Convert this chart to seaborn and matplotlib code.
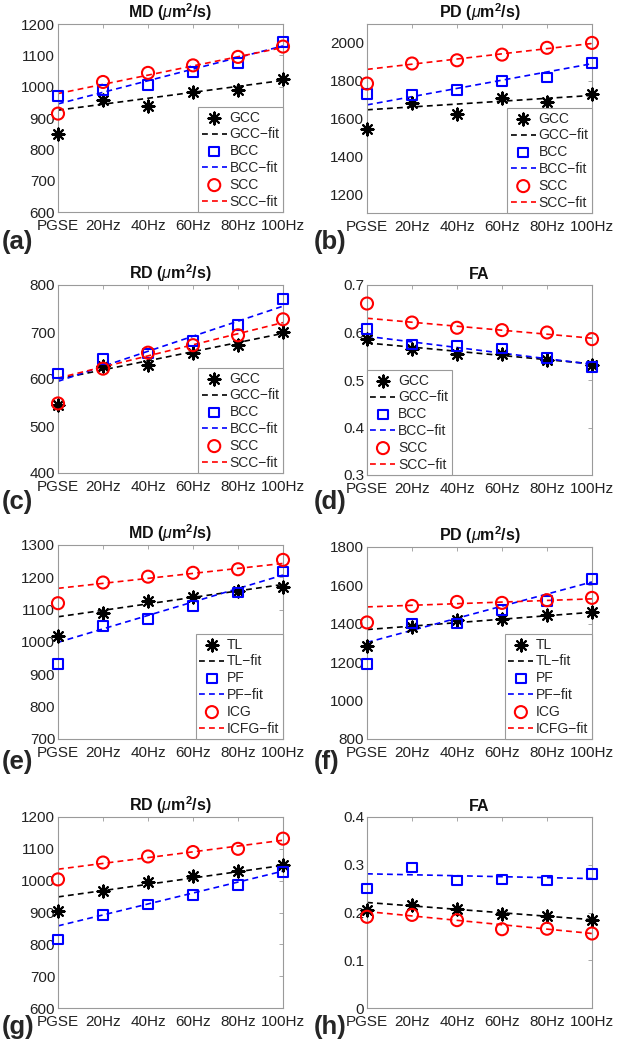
import numpy as np
import pandas as pd
import matplotlib
matplotlib.use('Agg')
import matplotlib.pyplot as plt
import seaborn as sns
from matplotlib.ticker import FuncFormatter

freqs = ['PGSE', '20Hz', '40Hz', '60Hz', '80Hz', '100Hz']
cc_names = ['GCC', 'BCC', 'SCC']
cc_fit_names = ['GCC\u2212fit', 'BCC\u2212fit', 'SCC\u2212fit']
tr_names = ['TL', 'PF', 'ICG']
tr_fit_names = ['TL\u2212fit', 'PF\u2212fit', 'ICFG\u2212fit']

# corpus callosum, panels (a)-(d)
md_gcc = [849, 958, 939, 982, 990, 1026]
md_bcc = [971, 990, 1006, 1046, 1076, 1143]
md_scc = [914, 1015, 1044, 1068, 1095, 1128]
md_gcc_fit = [925, 1020]
md_bcc_fit = [945, 1130]
md_scc_fit = [978, 1125]

pd_gcc = [1542, 1683, 1623, 1706, 1688, 1729]
pd_bcc = [1729, 1723, 1750, 1800, 1817, 1894]
pd_scc = [1785, 1891, 1908, 1938, 1974, 2000]
pd_gcc_fit = [1646, 1722]
pd_bcc_fit = [1672, 1890]
pd_scc_fit = [1860, 1997]

rd_gcc = [545, 628, 629, 656, 672, 700]
rd_bcc = [612, 642, 654, 681, 715, 770]
rd_scc = [548, 622, 656, 672, 693, 727]
rd_gcc_fit = [600, 697]
rd_bcc_fit = [595, 755]
rd_scc_fit = [602, 720]

fa_gcc = [0.586, 0.565, 0.555, 0.554, 0.542, 0.532]
fa_bcc = [0.607, 0.575, 0.572, 0.566, 0.546, 0.528]
fa_scc = [0.661, 0.621, 0.610, 0.605, 0.600, 0.586]
fa_gcc_fit = [0.578, 0.534]
fa_bcc_fit = [0.592, 0.533]
fa_scc_fit = [0.630, 0.588]

# tracts, panels (e)-(h)
md_tl = [1019, 1091, 1127, 1140, 1158, 1171]
md_pf = [931, 1050, 1071, 1111, 1153, 1218]
md_icg = [1120, 1184, 1202, 1214, 1225, 1254]
md_tl_fit = [1078, 1178]
md_pf_fit = [999, 1207]
md_icg_fit = [1166, 1243]

pd_tl = [1284, 1381, 1419, 1424, 1445, 1462]
pd_pf = [1190, 1401, 1401, 1471, 1520, 1632]
pd_icg = [1407, 1493, 1514, 1509, 1523, 1535]
pd_tl_fit = [1370, 1460]
pd_pf_fit = [1303, 1618]
pd_icg_fit = [1488, 1530]

rd_tl = [904, 966, 996, 1016, 1031, 1048]
rd_pf = [815, 893, 925, 954, 987, 1027]
rd_icg = [1004, 1057, 1076, 1090, 1100, 1132]
rd_tl_fit = [949, 1048]
rd_pf_fit = [858, 1030]
rd_icg_fit = [1036, 1127]

fa_tl = [0.205, 0.215, 0.207, 0.196, 0.192, 0.185]
fa_pf = [0.250, 0.294, 0.267, 0.269, 0.267, 0.281]
fa_icg = [0.191, 0.195, 0.184, 0.165, 0.166, 0.156]
fa_tl_fit = [0.221, 0.185]
fa_pf_fit = [0.281, 0.271]
fa_icg_fit = [0.202, 0.156]

t_md = r'MD ($\mu$m$^{\mathbf{2}}$/s)'
t_pd = r'PD ($\mu$m$^{\mathbf{2}}$/s)'
t_rd = r'RD ($\mu$m$^{\mathbf{2}}$/s)'

panels = [
    dict(tag='(a)', title=t_md, series=[md_gcc, md_bcc, md_scc], fits=[md_gcc_fit, md_bcc_fit, md_scc_fit],
         names=cc_names, fit_names=cc_fit_names, ylim=(600, 1200), yticks=[600, 700, 800, 900, 1000, 1100, 1200], leg='lower right'),
    dict(tag='(b)', title=t_pd, series=[pd_gcc, pd_bcc, pd_scc], fits=[pd_gcc_fit, pd_bcc_fit, pd_scc_fit],
         names=cc_names, fit_names=cc_fit_names, ylim=(1100, 2100), yticks=[1200, 1400, 1600, 1800, 2000], leg='lower right'),
    dict(tag='(c)', title=t_rd, series=[rd_gcc, rd_bcc, rd_scc], fits=[rd_gcc_fit, rd_bcc_fit, rd_scc_fit],
         names=cc_names, fit_names=cc_fit_names, ylim=(400, 800), yticks=[400, 500, 600, 700, 800], leg='lower right'),
    dict(tag='(d)', title='FA', series=[fa_gcc, fa_bcc, fa_scc], fits=[fa_gcc_fit, fa_bcc_fit, fa_scc_fit],
         names=cc_names, fit_names=cc_fit_names, ylim=(0.3, 0.7), yticks=[0.3, 0.4, 0.5, 0.6, 0.7], leg='lower left'),
    dict(tag='(e)', title=t_md, series=[md_tl, md_pf, md_icg], fits=[md_tl_fit, md_pf_fit, md_icg_fit],
         names=tr_names, fit_names=tr_fit_names, ylim=(700, 1300), yticks=[700, 800, 900, 1000, 1100, 1200, 1300], leg='lower right'),
    dict(tag='(f)', title=t_pd, series=[pd_tl, pd_pf, pd_icg], fits=[pd_tl_fit, pd_pf_fit, pd_icg_fit],
         names=tr_names, fit_names=tr_fit_names, ylim=(800, 1800), yticks=[800, 1000, 1200, 1400, 1600, 1800], leg='lower right'),
    dict(tag='(g)', title=t_rd, series=[rd_tl, rd_pf, rd_icg], fits=[rd_tl_fit, rd_pf_fit, rd_icg_fit],
         names=tr_names, fit_names=tr_fit_names, ylim=(600, 1200), yticks=[600, 700, 800, 900, 1000, 1100, 1200], leg=None),
    dict(tag='(h)', title='FA', series=[fa_tl, fa_pf, fa_icg], fits=[fa_tl_fit, fa_pf_fit, fa_icg_fit],
         names=tr_names, fit_names=tr_fit_names, ylim=(0, 0.4), yticks=[0, 0.1, 0.2, 0.3, 0.4], leg=None),
]

sns.set_style('white')
plt.rcParams['font.family'] = ['Liberation Sans', 'DejaVu Sans']
plt.rcParams['mathtext.fontset'] = 'custom'
plt.rcParams['mathtext.rm'] = 'Liberation Sans'
plt.rcParams['mathtext.it'] = 'Liberation Sans:italic'
plt.rcParams['mathtext.bf'] = 'Liberation Sans:bold'

W, H = 624, 1050
# axes boxes in pixels: left, top, right, bottom
px_boxes = [(58, 24, 283, 212), (367, 24, 592, 213),
            (58, 285, 283, 473), (367, 285, 592, 475),
            (58, 545, 283, 739), (367, 547, 592, 739),
            (58, 817, 283, 1008), (367, 817, 592, 1008)]
tag_pos = [(2, 242), (314, 242), (2, 502), (314, 502), (2, 762), (314, 762), (2, 1027), (314, 1027)]

colors = ['black', 'blue', 'red']
frame = '#9a9a9a'
xpos = np.arange(len(freqs))

fig = plt.figure(figsize=(W / 100, H / 100), dpi=100)

for p, (l, t, r, b), (tx, ty) in zip(panels, px_boxes, tag_pos):
    ax = fig.add_axes([l / W, 1 - b / H, (r - l) / W, (b - t) / H])
    for i in range(3):
        c = colors[i]
        if i == 0:
            sns.scatterplot(x=xpos, y=p['series'][i], marker=(8, 2, 0), s=75, color=c, linewidth=1.5,
                            clip_on=False, zorder=3, label=p['names'][i], ax=ax)
        elif i == 1:
            sns.scatterplot(x=xpos, y=p['series'][i], marker='s', s=48, fc='none', ec=c, linewidth=1.5,
                            clip_on=False, zorder=3, label=p['names'][i], ax=ax)
        else:
            sns.scatterplot(x=xpos, y=p['series'][i], marker='o', s=75, fc='none', ec=c, linewidth=1.5,
                            clip_on=False, zorder=3, label=p['names'][i], ax=ax)
        sns.lineplot(x=xpos[[0, -1]], y=p['fits'][i], color=c, lw=1.2, ls=(0, (3.5, 2.5)),
                     label=p['fit_names'][i], zorder=2, ax=ax)

    ax.set_xlim(0, 5)
    ax.set_ylim(*p['ylim'])
    ax.set_xticks(xpos)
    ax.set_xticklabels(freqs)
    ax.set_yticks(p['yticks'])
    ax.yaxis.set_major_formatter(FuncFormatter(lambda v, _: f'{v:g}'))
    ax.set_xlabel('')
    ax.set_ylabel('')
    ax.set_title(p['title'], fontsize=11.5, fontweight='bold', pad=4, color='#111111')
    for s in ax.spines.values():
        s.set_visible(True)
        s.set_color(frame)
        s.set_linewidth(0.8)
    ax.tick_params(direction='in', length=3, width=0.6, color=frame, top=True, right=True,
                   labelsize=11, labelcolor='#222222')
    ax.tick_params(axis='x', pad=5)
    ax.tick_params(axis='y', pad=2)

    handles, labels = ax.get_legend_handles_labels()
    lookup = dict(zip(labels, handles))
    order = [p['names'][0], p['fit_names'][0], p['names'][1], p['fit_names'][1], p['names'][2], p['fit_names'][2]]
    if p['leg']:
        leg = ax.legend([lookup[k] for k in order], order, loc=p['leg'], borderaxespad=0, fancybox=False,
                        edgecolor=frame, framealpha=1, fontsize=10, handlelength=1.8, handletextpad=0.2,
                        labelspacing=0.2, borderpad=0.25)
        leg.get_frame().set_linewidth(0.8)
    elif ax.get_legend() is not None:
        ax.get_legend().remove()

    fig.text(tx / W, 1 - ty / H, p['tag'], fontsize=18.5, fontweight='bold', ha='left', va='center')

fig.savefig('out.png', dpi=100, facecolor='white')
